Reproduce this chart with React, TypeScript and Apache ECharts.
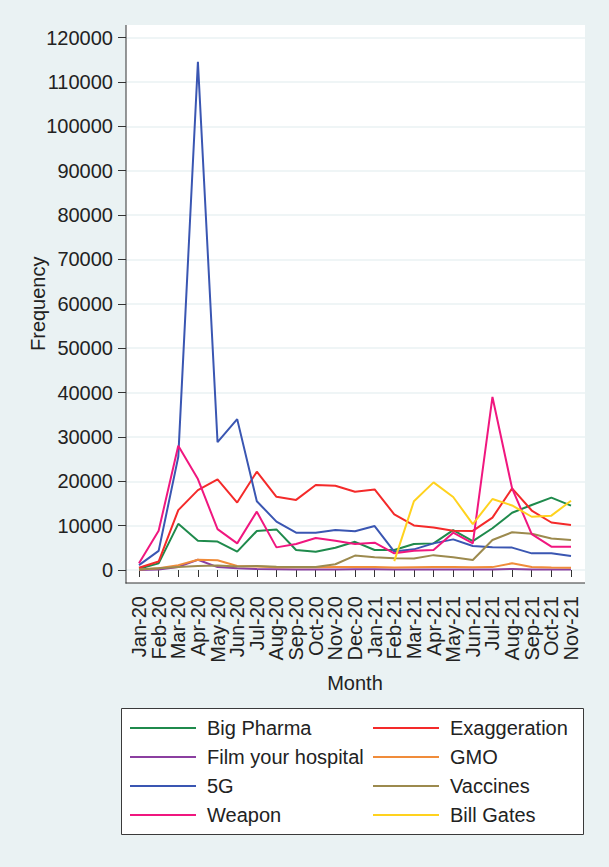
import React, { useEffect, useRef } from "react";
import * as echarts from "echarts";

const months = [
  "Jan-20", "Feb-20", "Mar-20", "Apr-20", "May-20", "Jun-20", "Jul-20", "Aug-20",
  "Sep-20", "Oct-20", "Nov-20", "Dec-20", "Jan-21", "Feb-21", "Mar-21", "Apr-21",
  "May-21", "Jun-21", "Jul-21", "Aug-21", "Sep-21", "Oct-21", "Nov-21",
];

const bigPharma = [300, 1500, 10400, 6600, 6400, 4130, 8800, 9150, 4500, 4100, 5000, 6350, 4500, 4500, 5850, 6000, 9000, 6500, 9400, 12900, 14650, 16300, 14500];
const exaggeration = [500, 1900, 13500, 18000, 20400, 15200, 22150, 16500, 15800, 19150, 19000, 17650, 18150, 12550, 10050, 9600, 8850, 8800, 11800, 18400, 13400, 10700, 10150];
const filmYourHospital = [0, 100, 700, 2300, 650, 400, 200, 150, 100, 100, 100, 150, 150, 100, 100, 100, 100, 100, 100, 250, 100, 100, 100];
const gmo = [100, 380, 1100, 2300, 2200, 900, 800, 600, 600, 600, 650, 700, 700, 550, 600, 650, 700, 600, 650, 1500, 700, 550, 500];
const fiveG = [1100, 4300, 25500, 114500, 28800, 34000, 15500, 10900, 8400, 8400, 9000, 8750, 9900, 4150, 4650, 6000, 6900, 5400, 5100, 5050, 3750, 3750, 3150];
const vaccines = [100, 400, 700, 900, 1000, 800, 900, 750, 650, 700, 1300, 3250, 2900, 2650, 2600, 3350, 2850, 2250, 6750, 8500, 8150, 7100, 6750];
const weapon = [1500, 8850, 28000, 20500, 9200, 6000, 13150, 5100, 5850, 7200, 6600, 5850, 6150, 3750, 4350, 4500, 8400, 6000, 39000, 18400, 8100, 5250, 5250];
const billGates = [null, null, null, null, null, null, null, null, null, null, null, null, null, 2000, 15500, 19750, 16450, 10350, 16000, 14550, 12000, 12250, 15600];

const yTicks = { min: 0, max: 120000, interval: 10000 };

const seriesDefs = [
  { name: "Big Pharma", data: bigPharma, color: "#1f8a4c" },
  { name: "Exaggeration", data: exaggeration, color: "#f42a2a" },
  { name: "Film your hospital", data: filmYourHospital, color: "#8b3fa0" },
  { name: "GMO", data: gmo, color: "#f08c3a" },
  { name: "5G", data: fiveG, color: "#3a56b2" },
  { name: "Vaccines", data: vaccines, color: "#9c8a4e" },
  { name: "Weapon", data: weapon, color: "#f0177f" },
  { name: "Bill Gates", data: billGates, color: "#ffd21e" },
];

const FONT = "'Liberation Sans', Arial, sans-serif";
const TXT = "#222222";
const BG = "#EAF2F3";

export default function App() {
  const ref = useRef<HTMLDivElement>(null);
  useEffect(() => {
    if (!ref.current) return;
    const chart = echarts.init(ref.current, null, { renderer: "svg" });
    const legendCommon = {
      orient: "vertical",
      top: 718,
      padding: 0,
      icon: "rect",
      itemWidth: 66,
      itemHeight: 2,
      itemGap: 9,
      textStyle: { fontSize: 20, color: TXT, fontFamily: FONT, lineHeight: 20, padding: [0, 0, 0, 6] },
      selectedMode: false,
    };
    chart.setOption({
      animation: false,
      backgroundColor: BG,
      textStyle: { fontFamily: FONT },
      grid: [
        { left: 139, right: 38, top: 37.5, bottom: 297 },
        { left: 126, right: 24, top: 37.5, bottom: 297 },
      ],
      xAxis: [
        {
          type: "category",
          data: months,
          boundaryGap: false,
          offset: 13,
          axisLine: { show: false },
          axisTick: { show: true, length: 7, interval: 0, lineStyle: { color: "#333", width: 1 } },
          axisLabel: { rotate: 90, fontSize: 20, color: TXT, margin: 13, interval: 0, fontFamily: FONT },
          splitLine: { show: false },
          name: "Month",
          nameLocation: "middle",
          nameGap: 90,
          nameMoveOverlap: false,
          nameTextStyle: { fontSize: 20, color: TXT, fontFamily: FONT },
        },
        { type: "value", gridIndex: 1, show: false },
      ],
      yAxis: [
        {
          type: "value",
          ...yTicks,
          offset: 13,
          axisLine: { show: false },
          axisTick: { show: true, length: 8, lineStyle: { color: "#333", width: 1 } },
          axisLabel: { fontSize: 20, color: TXT, margin: 13, fontFamily: FONT, formatter: (v: number) => String(v) },
          splitLine: { show: false },
          name: "Frequency",
          nameLocation: "middle",
          nameGap: 78,
          nameRotate: 90,
          nameMoveOverlap: false,
          nameTextStyle: { fontSize: 20, color: TXT, fontFamily: FONT },
        },
        {
          type: "value",
          gridIndex: 1,
          ...yTicks,
          axisLine: { show: false },
          axisTick: { show: false },
          axisLabel: { show: false },
          splitLine: { show: true, lineStyle: { color: BG, width: 1.5 } },
        },
      ],
      legend: [
        { ...legendCommon, left: 130, data: ["Big Pharma", "Film your hospital", "5G", "Weapon"] },
        { ...legendCommon, left: 373, data: ["Exaggeration", "GMO", "Vaccines", "Bill Gates"] },
      ],
      graphic: [
        { type: "rect", z: -10, silent: true, shape: { x: 126, y: 25, width: 459, height: 558 }, style: { fill: "#ffffff" } },
        { type: "line", z: 10, silent: true, shape: { x1: 126, y1: 25, x2: 126, y2: 583.5 }, style: { stroke: "#333", lineWidth: 1 } },
        { type: "line", z: 10, silent: true, shape: { x1: 125.5, y1: 583, x2: 585, y2: 583 }, style: { stroke: "#333", lineWidth: 1 } },
        { type: "rect", z: -10, silent: true, shape: { x: 121.5, y: 708.5, width: 462, height: 126 }, style: { fill: "#ffffff", stroke: "#3a3a3a", lineWidth: 1 } },
      ],
      series: seriesDefs.map((s) => ({
        name: s.name,
        type: "line",
        data: s.data,
        symbol: "none",
        connectNulls: false,
        color: s.color,
        lineStyle: { color: s.color, width: 2 },
        itemStyle: { color: s.color },
      })),
    });
    return () => chart.dispose();
  }, []);
  return <div ref={ref} style={{ position: "fixed", left: 0, top: 0, width: 609, height: 867 }} />;
}
